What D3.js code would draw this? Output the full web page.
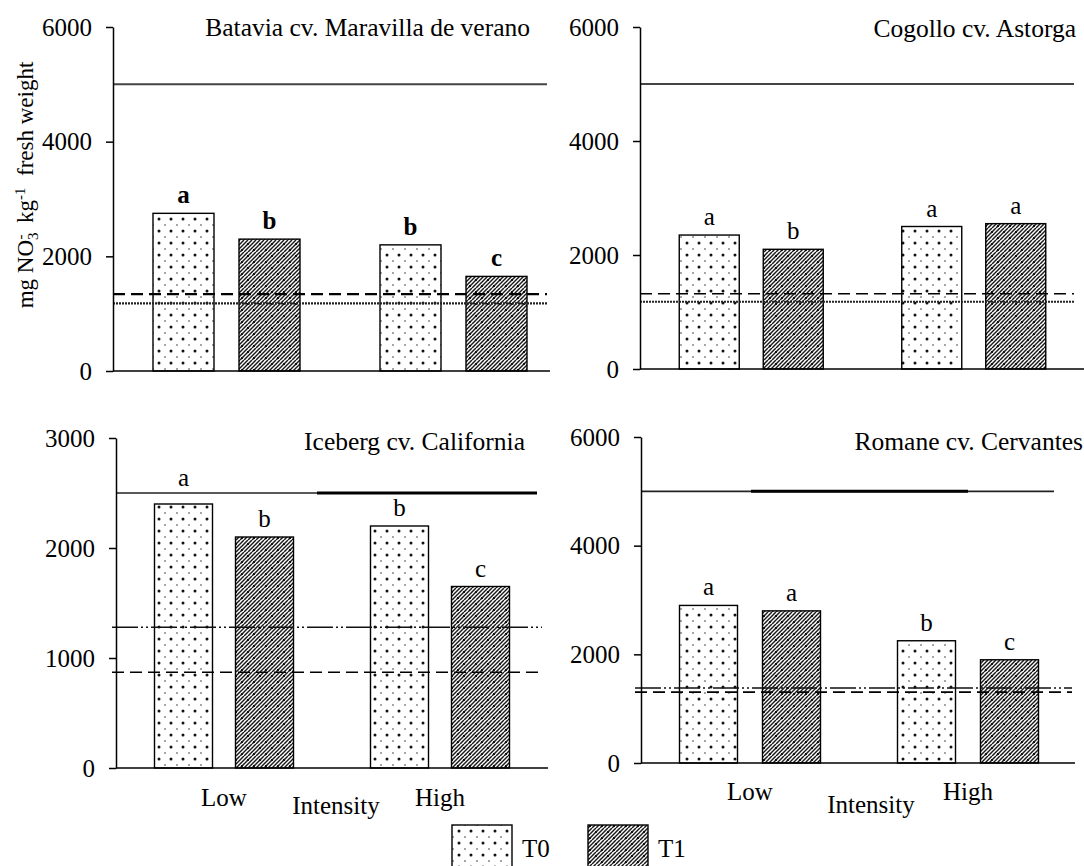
<!DOCTYPE html>
<html><head><meta charset="utf-8">
<script src="https://cdn.jsdelivr.net/npm/d3@7"></script>
<style>html,body{margin:0;padding:0;background:#fff;overflow:hidden} svg text{font-family:'Liberation Serif','Times New Roman',serif}</style>
</head><body><svg id="c" width="1084" height="866"></svg>
<script>
// ---------- data ----------
const panelTitles = ["Batavia cv. Maravilla de verano", "Cogollo cv. Astorga", "Iceberg cv. California", "Romane cv. Cervantes"];
const intensityLabels = ["Low", "High"];
const treatmentLabels = ["T0", "T1"];
const t0Values = [[2750, 2200], [2350, 2500], [2400, 2200], [2900, 2250]];
const t1Values = [[2300, 1650], [2100, 2550], [2100, 1650], [2800, 1900]];
const t0Letters = [["a", "b"], ["a", "a"], ["a", "b"], ["a", "b"]];
const t1Letters = [["b", "c"], ["b", "a"], ["b", "c"], ["a", "c"]];
const yMax = [6000, 6000, 3000, 6000];
const yTicks = [[0, 2000, 4000, 6000], [0, 2000, 4000, 6000], [0, 1000, 2000, 3000], [0, 2000, 4000, 6000]];
const upperLimit = [5000, 5000, 2500, 5000];
const dashedLimit = [1340, 1320, 870, 1305];
const secondLimit = [1180, 1180, 1280, 1380];
const axisTitle = "Intensity";

// ---------- layout / style ----------
const font = "'Liberation Serif','Times New Roman',serif";
const fs = 25;
const layout = [
  {axisX:113, xEnd:567, baseEnd:550, y0:371, yTop:27, barW:61, gap:25, titleX:530, titleY:36,
   lineStart:113, lineEnd:547, thick:null, second:"dot", letterWeight:"bold"},
  {axisX:640, xEnd:1085, baseEnd:1084, y0:369, yTop:27, barW:60, gap:24, titleX:1076, titleY:37,
   lineStart:640, lineEnd:1074, thick:null, second:"dot", letterWeight:"normal"},
  {axisX:116, xEnd:548, baseEnd:548, y0:768, yTop:438, barW:58, gap:23, titleX:525, titleY:450,
   lineStart:112, lineEnd:542, solidEnd:537, thick:[317, 537], second:"dashdot", letterWeight:"normal",
   xLabelY:806, intensityX:336, intensityY:814},
  {axisX:641, xEnd:1077, baseEnd:1075, y0:763, yTop:437, barW:58, gap:25, titleX:1083, titleY:450,
   lineStart:635, lineEnd:1072, solidEnd:1054, thick:[751, 968], second:"dashdot", letterWeight:"normal",
   xLabelY:800, intensityX:871, intensityY:813}
];

const svg = d3.select("#c");
svg.append("rect").attr("width",1084).attr("height",866).attr("fill","#fff");
const defs = svg.append("defs");

// T0 dotted pattern
const p0 = defs.append("pattern").attr("id","pT0").attr("patternUnits","userSpaceOnUse")
  .attr("width",12).attr("height",12);
p0.append("rect").attr("width",12).attr("height",12).attr("fill","#fff");
p0.append("circle").attr("cx",3).attr("cy",3).attr("r",1.5).attr("fill","#111");
p0.append("circle").attr("cx",9).attr("cy",9).attr("r",0.8).attr("fill","#333");

// T1 hatch pattern
const p1 = defs.append("pattern").attr("id","pT1").attr("patternUnits","userSpaceOnUse")
  .attr("width",12).attr("height",12);
p1.append("rect").attr("width",12).attr("height",12).attr("fill","#fff");
[-12,-8,-4,0,4,8,12,16,20].forEach(k=>{
  p1.append("path").attr("d",`M${k},12 L${k+12},0`).attr("stroke","#1a1a1a").attr("stroke-width",1.5);
});
p1.append("circle").attr("cx",2).attr("cy",10).attr("r",1.1).attr("fill","#000");
p1.append("circle").attr("cx",8).attr("cy",4).attr("r",1.1).attr("fill","#000");

const fills = {T0:"url(#pT0)", T1:"url(#pT1)"};

panelTitles.forEach((title, i) => {
  const L = layout[i];
  const g = svg.append("g");
  const y = d3.scaleLinear().domain([0, yMax[i]]).range([L.y0, L.yTop]);
  const x0 = d3.scalePoint().domain(intensityLabels).range([L.axisX, L.xEnd]).padding(0.5);
  const half = L.barW + L.gap / 2;
  const x1 = d3.scaleBand().domain(treatmentLabels).range([-half, half])
    .paddingInner(L.gap / (L.barW + L.gap)).paddingOuter(0);

  const rows = [];
  intensityLabels.forEach((lab, j) => {
    rows.push({int:lab, tr:"T0", v:t0Values[i][j], letter:t0Letters[i][j]});
    rows.push({int:lab, tr:"T1", v:t1Values[i][j], letter:t1Letters[i][j]});
  });
  g.selectAll("rect.bar").data(rows).join("rect").attr("class","bar")
    .attr("x", d => x0(d.int) + x1(d.tr))
    .attr("y", d => y(d.v))
    .attr("width", x1.bandwidth())
    .attr("height", d => y(0) - y(d.v))
    .attr("fill", d => fills[d.tr])
    .attr("stroke", "#000").attr("stroke-width", 1.4);

  // reference lines
  const yU = y(upperLimit[i]);
  if (L.thick) {
    g.append("line").attr("x1", L.axisX).attr("x2", L.solidEnd).attr("y1", yU).attr("y2", yU)
      .attr("stroke", "#222").attr("stroke-width", 1.6);
    g.append("line").attr("x1", L.thick[0]).attr("x2", L.thick[1]).attr("y1", yU).attr("y2", yU)
      .attr("stroke", "#000").attr("stroke-width", 3);
  } else {
    g.append("line").attr("x1", L.axisX).attr("x2", L.lineEnd).attr("y1", yU).attr("y2", yU)
      .attr("stroke", "#444").attr("stroke-width", 2);
  }
  const yD = y(dashedLimit[i]);
  g.append("line").attr("x1", L.lineStart).attr("x2", L.lineEnd).attr("y1", yD).attr("y2", yD)
    .attr("stroke", "#000").attr("stroke-width", i === 0 ? 2.2 : 1.6).attr("stroke-dasharray", "12,6");
  const yS = y(secondLimit[i]);
  g.append("line").attr("x1", L.lineStart).attr("x2", L.lineEnd).attr("y1", yS).attr("y2", yS)
    .attr("stroke", L.second === "dot" ? "#222" : "#111")
    .attr("stroke-width", L.second === "dot" ? 2.2 : 1.4)
    .attr("stroke-dasharray", L.second === "dot" ? "2,1" : "26,3,2,3,2,3");

  // letters
  g.selectAll("text.sig").data(rows).join("text").attr("class","sig")
    .attr("x", d => x0(d.int) + x1(d.tr) + x1.bandwidth() / 2)
    .attr("y", d => {
      let b = y(d.v) - 10;
      if (y(d.v) > yU && b - 14 < yU + 3) b = yU - 7;
      return b;
    })
    .attr("text-anchor", "middle").attr("font-family", font).attr("font-size", fs)
    .attr("font-weight", L.letterWeight).attr("fill", "#000")
    .text(d => d.letter);

  // y axis
  const ax = g.append("g").attr("transform", `translate(${L.axisX},0)`)
    .call(d3.axisLeft(y).tickValues(yTicks[i]).tickSize(7).tickSizeOuter(0).tickPadding(14).tickFormat(d3.format("d")));
  ax.attr("font-family", font).attr("font-size", fs);
  ax.select(".domain").attr("stroke", "#000").attr("stroke-width", 1.5);
  ax.selectAll(".tick line").attr("stroke", "#000").attr("stroke-width", 1.5);
  ax.selectAll(".tick text").attr("font-family", font).attr("font-size", fs).attr("fill", "#000");

  // baseline
  g.append("line").attr("x1", L.axisX).attr("x2", L.baseEnd).attr("y1", y(0)).attr("y2", y(0))
    .attr("stroke", "#000").attr("stroke-width", 1.5);

  // title
  g.append("text").attr("x", L.titleX).attr("y", L.titleY).attr("text-anchor", "end")
    .attr("font-family", font).attr("font-size", fs + 0.5).attr("fill", "#000").text(title);

  if (L.xLabelY) {
    intensityLabels.forEach(lab => {
      g.append("text").attr("x", x0(lab)).attr("y", L.xLabelY).attr("text-anchor", "middle")
        .attr("font-family", font).attr("font-size", fs).attr("fill", "#000").text(lab);
    });
    g.append("text").attr("x", L.intensityX).attr("y", L.intensityY).attr("text-anchor", "middle")
      .attr("font-family", font).attr("font-size", fs).attr("fill", "#000").text(axisTitle);
  }
});

// y axis label
const yl = svg.append("text").attr("transform", "translate(33,185) rotate(-90)")
  .attr("text-anchor", "middle").attr("font-family", font).attr("font-size", 23).attr("fill", "#000");
yl.append("tspan").text("mg NO");
yl.append("tspan").attr("font-size", 15).attr("dy", 5).text("3");
yl.append("tspan").attr("font-size", 15).attr("dx", -7).attr("dy", -13).text("-");
yl.append("tspan").attr("dy", 8).text("\u00a0 kg");
yl.append("tspan").attr("font-size", 15).attr("dy", -8).text("-1");
yl.append("tspan").attr("dy", 8).text("\u00a0 fresh weight");

// legend
const legendX = [452, 588];
treatmentLabels.forEach((t, k) => {
  svg.append("rect").attr("x", legendX[k]).attr("y", 825).attr("width", 60).attr("height", 55)
    .attr("fill", fills[t]).attr("stroke", "#000").attr("stroke-width", 1.4);
  svg.append("text").attr("x", legendX[k] + 70).attr("y", 857)
    .attr("font-family", font).attr("font-size", fs).attr("fill", "#000").text(t);
});
</script></body></html>
